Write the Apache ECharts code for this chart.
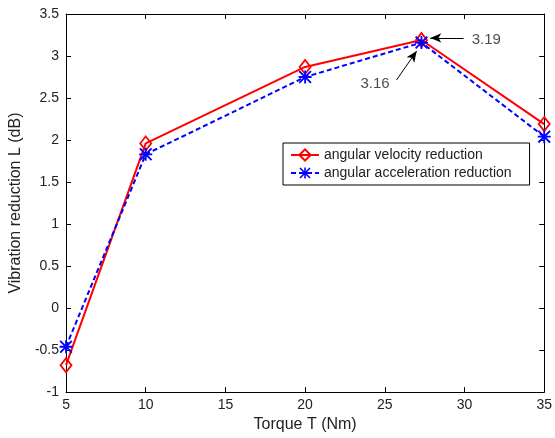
<!DOCTYPE html>
<html>
<head>
<meta charset="utf-8">
<script src="https://cdn.jsdelivr.net/npm/echarts@6/dist/echarts.min.js"></script>
<style>
html,body{margin:0;padding:0;background:#fff;}
#c{width:555px;height:438px;}
</style>
</head>
<body>
<div id="c"></div>
<script>
const torque = [5, 10, 20, 27.3, 35];
const velocityReduction = [-0.68, 1.96, 2.87, 3.19, 2.19];
const accelerationReduction = [-0.46, 1.83, 2.75, 3.16, 2.04];
const xTicks = [5, 10, 15, 20, 25, 30, 35];
const yTicks = [-1, -0.5, 0, 0.5, 1, 1.5, 2, 2.5, 3, 3.5];
const annoArrows = [
  [[29.94, 3.215], [27.85, 3.215]],
  [[25.74, 2.716], [27.0, 3.06]]
];
const annoTexts = [
  {pos: [30.45, 3.19], text: '3.19', side: 'right'},
  {pos: [25.3, 2.67], text: '3.16', side: 'left'}
];

const FONT = 'Liberation Sans';
const star = 'path://M8.6 0L11.4 0L11.4 20L8.6 20Z M0 8.6L20 8.6L20 11.4L0 11.4Z M2 0L20 18L18 20L0 2Z M18 0L20 2L2 20L0 18Z';

const chart = echarts.init(document.getElementById('c'), null, {renderer: 'canvas'});
const baseX = {
  type: 'value', min: xTicks[0], max: xTicks[xTicks.length - 1], interval: 5,
  axisLine: {show: true, onZero: false, lineStyle: {color: '#000', width: 1}},
  axisTick: {show: true, inside: true, length: 5, lineStyle: {color: '#000'}},
  splitLine: {show: false}
};
const baseY = {
  type: 'value', min: yTicks[0], max: yTicks[yTicks.length - 1], interval: 0.5,
  axisLine: {show: true, onZero: false, lineStyle: {color: '#000', width: 1}},
  axisTick: {show: true, inside: true, length: 5, lineStyle: {color: '#000'}},
  splitLine: {show: false}
};
chart.setOption({
  animation: false,
  backgroundColor: '#fff',
  textStyle: {fontFamily: FONT},
  grid: {left: 64, right: 6, top: 14, bottom: 45, containLabel: false},
  xAxis: [
    Object.assign({}, baseX, {
      position: 'bottom',
      name: 'Torque T (Nm)', nameLocation: 'middle', nameGap: 24,
      nameTextStyle: {fontFamily: FONT, fontSize: 16, color: '#222'},
      axisLabel: {show: true, margin: 6, fontFamily: FONT, fontSize: 14, color: '#222'}
    }),
    Object.assign({}, baseX, {position: 'top', axisLabel: {show: false}})
  ],
  yAxis: [
    Object.assign({}, baseY, {
      position: 'left',
      name: 'Vibration reduction L (dB)', nameLocation: 'middle', nameGap: 37,
      nameTextStyle: {fontFamily: FONT, fontSize: 16, color: '#222'},
      axisLabel: {show: true, margin: 7, fontFamily: FONT, fontSize: 14, color: '#222'}
    }),
    Object.assign({}, baseY, {position: 'right', axisLabel: {show: false}})
  ],
  legend: {
    show: true, orient: 'vertical', left: 283, top: 143,
    data: ['angular velocity reduction', 'angular acceleration reduction'],
    backgroundColor: '#fff', borderColor: '#000', borderWidth: 1, borderRadius: 0,
    padding: [5, 18, 5, 7],
    itemWidth: 28, itemHeight: 14, itemGap: 4,
    textStyle: {fontFamily: FONT, fontSize: 14, color: '#222'}
  },
  series: [
    {
      name: 'angular velocity reduction', type: 'line',
      data: torque.map((t, i) => [t, velocityReduction[i]]),
      lineStyle: {color: '#ff0000', width: 2, type: 'solid'},
      symbol: 'diamond', symbolSize: [11, 14], showAllSymbol: true,
      itemStyle: {color: 'rgba(255,255,255,0)', borderColor: '#ff0000', borderWidth: 1.8},
      z: 3
    },
    {
      name: 'angular acceleration reduction', type: 'line',
      data: torque.map((t, i) => [t, accelerationReduction[i]]),
      lineStyle: {color: '#0000ff', width: 2, type: [5, 3]},
      symbol: star, symbolSize: 13, showAllSymbol: true,
      itemStyle: {color: '#0000ff', borderWidth: 0},
      z: 4
    },
    {
      name: 'annotations', type: 'scatter', symbolSize: 0, silent: true,
      data: annoTexts.map(a => ({
        value: a.pos,
        label: {show: true, formatter: a.text, position: a.side, distance: 0,
                fontFamily: FONT, fontSize: 15, color: '#222'}
      })),
      markLine: {
        silent: true, animation: false,
        symbol: ['none', 'arrow'], symbolSize: [7, 11],
        lineStyle: {color: '#000', width: 1, type: 'solid'},
        label: {show: false},
        data: annoArrows.map(a => [{coord: a[0]}, {coord: a[1]}])
      },
      z: 5
    }
  ]
});
</script>
</body>
</html>
